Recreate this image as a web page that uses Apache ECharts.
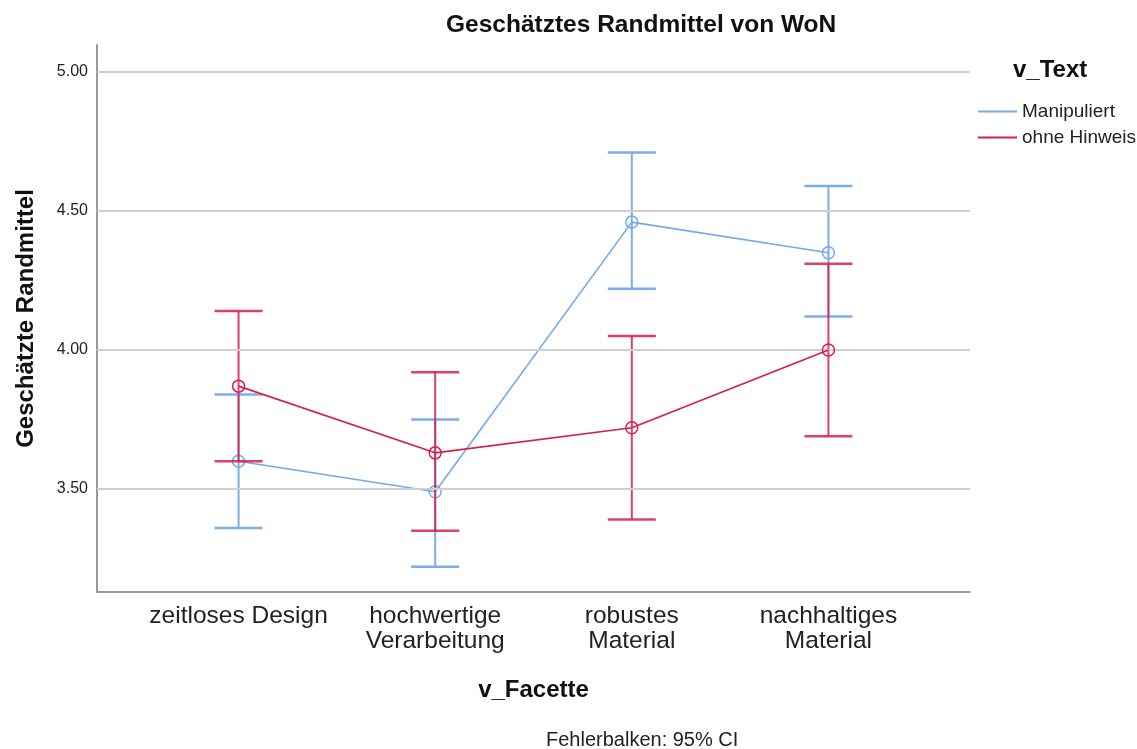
<!DOCTYPE html>
<html>
<head>
<meta charset="utf-8">
<script src="https://cdn.jsdelivr.net/npm/echarts@6/dist/echarts.min.js"></script>
<style>
  html, body { margin: 0; padding: 0; background: #ffffff; }
  #chart { width: 1137px; height: 749px; }
</style>
</head>
<body>
<div id="chart"></div>
<script>
// Facet categories (x axis)
const categories = ['zeitloses Design', 'hochwertige\nVerarbeitung', 'robustes\nMaterial', 'nachhaltiges\nMaterial'];

// Estimated marginal means and 95% CI bounds, group "Manipuliert"
const manipMean = [3.60, 3.49, 4.46, 4.35];
const manipLow  = [3.36, 3.22, 4.22, 4.12];
const manipHigh = [3.84, 3.75, 4.71, 4.59];

// Group "ohne Hinweis"
const ohneMean = [3.87, 3.63, 3.72, 4.00];
const ohneLow  = [3.60, 3.35, 3.39, 3.69];
const ohneHigh = [4.14, 3.92, 4.05, 4.31];

// Y axis tick labels
const yTicks = [3.5, 4.0, 4.5, 5.0];

const BLUE = '#72a9ea';
const RED = '#d81e4b';
const FONT = '"Liberation Sans", Arial, sans-serif';

function pointData(means) {
  return means.map((m, i) => [i, m]);
}
function barData(lows, highs) {
  return lows.map((l, i) => [i, l, highs[i]]);
}

function errorBarRenderer(color, opacity) {
  return function (params, api) {
    const x = api.value(0);
    const pLo = api.coord([x, api.value(1)]);
    const pHi = api.coord([x, api.value(2)]);
    const hw = 24;
    const style = { stroke: color, lineWidth: 2, opacity: opacity };
    return {
      type: 'group',
      children: [
        { type: 'line', shape: { x1: pLo[0], y1: pLo[1], x2: pHi[0], y2: pHi[1] }, style: style },
        { type: 'line', shape: { x1: pLo[0] - hw, y1: pLo[1], x2: pLo[0] + hw, y2: pLo[1] }, style: Object.assign({}, style, { lineWidth: 2.5 }) },
        { type: 'line', shape: { x1: pHi[0] - hw, y1: pHi[1], x2: pHi[0] + hw, y2: pHi[1] }, style: Object.assign({}, style, { lineWidth: 2.5 }) }
      ]
    };
  };
}

const chart = echarts.init(document.getElementById('chart'), null, { renderer: 'canvas' });

chart.setOption({
  backgroundColor: '#ffffff',
  animation: false,
  color: [BLUE, RED],
  textStyle: { fontFamily: FONT },
  grid: { left: 97, right: 167, top: 45, bottom: 157, containLabel: false },
  legend: {
    orient: 'vertical',
    left: 973,
    top: 97,
    icon: 'rect',
    itemWidth: 39,
    itemHeight: 2,
    itemGap: 7,
    textStyle: { fontFamily: FONT, fontSize: 19, color: '#222' },
    data: [
      { name: 'Manipuliert', itemStyle: { color: BLUE } },
      { name: 'ohne Hinweis', itemStyle: { color: RED } }
    ]
  },
  graphic: [
    {
      type: 'text', left: 446, top: 13,
      style: { text: 'Geschätztes Randmittel von WoN', font: 'bold 24.5px ' + FONT, fill: '#111' }
    },
    {
      type: 'text', left: 1013, top: 58,
      style: { text: 'v_Text', font: 'bold 24px ' + FONT, fill: '#111' }
    },
    {
      type: 'text', left: 546, top: 730,
      style: { text: 'Fehlerbalken: 95% CI', font: '20px ' + FONT, fill: '#222' }
    }
  ],
  xAxis: {
    type: 'value',
    min: -0.72,
    max: 3.72,
    name: 'v_Facette',
    nameLocation: 'middle',
    nameGap: 86,
    nameTextStyle: { fontFamily: FONT, fontSize: 24, fontWeight: 'bold', color: '#111' },
    axisLine: { show: true, onZero: false, lineStyle: { color: '#999', width: 2 } },
    axisTick: { show: false },
    splitLine: { show: false },
    axisLabel: {
      customValues: [0, 1, 2, 3],
      formatter: v => categories[Math.round(v)],
      fontFamily: FONT, fontSize: 24.5, lineHeight: 25, color: '#222', margin: 12
    }
  },
  yAxis: {
    type: 'value',
    min: 3.1295,
    max: 5.097,
    name: 'Geschätzte Randmittel',
    nameLocation: 'middle',
    nameGap: 59,
    nameTextStyle: { fontFamily: FONT, fontSize: 24, fontWeight: 'bold', color: '#111' },
    axisLine: { show: true, onZero: false, lineStyle: { color: '#999', width: 2 } },
    axisTick: { show: false, customValues: yTicks },
    splitLine: { show: false },
    axisLabel: {
      customValues: yTicks,
      formatter: v => v.toFixed(2),
      fontFamily: FONT, fontSize: 16, color: '#222', margin: 9
    }
  },
  series: [
    {
      name: 'grid',
      type: 'line',
      data: [],
      z: 0,
      silent: true,
      markLine: {
        silent: true,
        symbol: 'none',
        label: { show: false },
        lineStyle: { color: '#cfcfcf', width: 2, type: 'solid' },
        data: yTicks.map(v => ({ yAxis: v }))
      }
    },
    {
      name: 'Manipuliert',
      type: 'custom',
      renderItem: errorBarRenderer(BLUE, 0.95),
      data: barData(manipLow, manipHigh),
      itemStyle: { color: BLUE },
      z: 2,
      silent: true
    },
    {
      name: 'Manipuliert',
      type: 'line',
      data: pointData(manipMean),
      symbol: 'circle',
      symbolSize: 12,
      lineStyle: { color: BLUE, width: 1.6 },
      itemStyle: { color: 'rgba(255,255,255,0)', borderColor: BLUE, borderWidth: 1.5 },
      z: 3
    },
    {
      name: 'ohne Hinweis',
      type: 'custom',
      renderItem: errorBarRenderer(RED, 0.85),
      data: barData(ohneLow, ohneHigh),
      itemStyle: { color: RED },
      z: 4,
      silent: true
    },
    {
      name: 'ohne Hinweis',
      type: 'line',
      data: pointData(ohneMean),
      symbol: 'circle',
      symbolSize: 12,
      lineStyle: { color: RED, width: 1.6 },
      itemStyle: { color: 'rgba(255,255,255,0)', borderColor: RED, borderWidth: 1.5 },
      z: 5
    }
  ]
});
</script>
</body>
</html>
